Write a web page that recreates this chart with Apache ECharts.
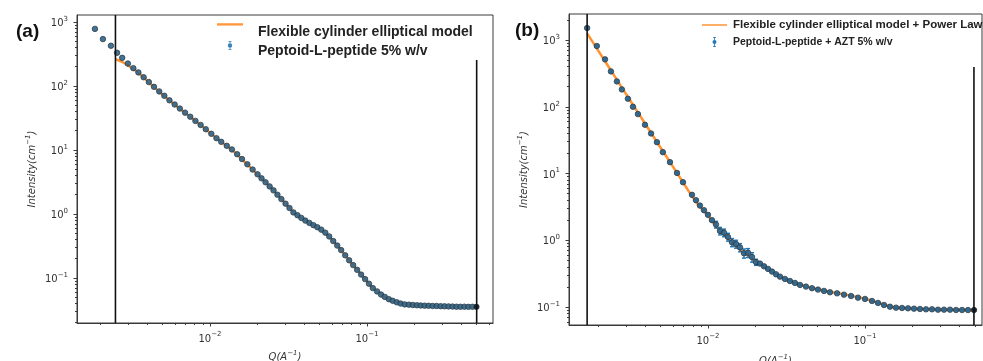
<!DOCTYPE html>
<html>
<head>
<meta charset="utf-8">
<script src="https://cdn.jsdelivr.net/npm/echarts@6/dist/echarts.min.js"></script>
<style>
html, body { margin: 0; padding: 0; background: #fff; }
#chart { width: 983px; height: 361px; }
</style>
</head>
<body>
<div id="chart"></div>
<script>
// (a) Peptoid-L-peptide 5% w/v  --  Q in 1/A, I in 1/cm
var qA = [0.00185, 0.00208, 0.00234, 0.00256, 0.00276, 0.00300, 0.00325, 0.00350, 0.00378, 0.00408,
  0.00440, 0.00475, 0.00512, 0.00552, 0.00596, 0.00643, 0.00694, 0.00749, 0.00808, 0.00872,
  0.00941, 0.0102, 0.0110, 0.0118, 0.0128, 0.0138, 0.0149, 0.0160, 0.0173, 0.0187, 0.0201,
  0.0213, 0.0226, 0.0240, 0.0254, 0.0269, 0.0285, 0.0303, 0.0321, 0.0340, 0.0361,
  0.0382, 0.0405, 0.0430, 0.0456, 0.0483, 0.0512, 0.0543, 0.0575, 0.0610, 0.0647,
  0.0685, 0.0727, 0.0770, 0.0817, 0.0866, 0.0918, 0.0973, 0.103, 0.109, 0.116,
  0.123, 0.130, 0.138, 0.146, 0.155, 0.164, 0.174, 0.185, 0.196, 0.208,
  0.220, 0.233, 0.247, 0.262, 0.278, 0.295, 0.312, 0.331, 0.351, 0.372,
  0.394, 0.418, 0.443, 0.470, 0.498];
var iA = [780, 540, 425, 330, 275, 224, 190, 163, 137, 115,
  97.0, 82.2, 70.3, 59.7, 51.4, 44.4, 38.3, 33.1, 28.5, 24.6,
  21.1, 17.9, 15.3, 13.4, 11.6, 10.2, 8.59, 7.22, 5.98, 4.95, 4.17,
  3.61, 3.13, 2.70, 2.34, 2.00, 1.71, 1.45, 1.24, 1.06, 0.957,
  0.869, 0.788, 0.726, 0.670, 0.621, 0.569, 0.511, 0.446, 0.378, 0.321,
  0.273, 0.226, 0.189, 0.159, 0.134, 0.113, 0.0961, 0.0815, 0.0695, 0.0617,
  0.0551, 0.0507, 0.0466, 0.0440, 0.0417, 0.0399, 0.0387, 0.0383, 0.0379, 0.0375,
  0.0372, 0.0370, 0.0368, 0.0366, 0.0365, 0.0363, 0.0361, 0.0360, 0.0358, 0.0356,
  0.0355, 0.0356, 0.0354, 0.0355, 0.0354];
var fitQA = [0.00250, 0.00276, 0.00300, 0.00350, 0.00408, 0.00475, 0.00552, 0.00643, 0.00749, 0.00872,
  0.0102, 0.0118, 0.0138, 0.0160, 0.0187, 0.0213, 0.0240, 0.0269, 0.0303, 0.0340,
  0.0382, 0.0430, 0.0483, 0.0543, 0.0610, 0.0685, 0.0770, 0.0866, 0.0973, 0.109,
  0.123, 0.138, 0.155, 0.174, 0.196, 0.233, 0.278, 0.331, 0.394, 0.443, 0.498];
var fitIA = [262, 238, 210, 161, 114, 81.5, 59.2, 44.0, 32.8, 24.4,
  17.8, 13.3, 10.1, 7.15, 4.92, 3.60, 2.70, 2.01, 1.46, 1.07,
  0.872, 0.727, 0.618, 0.508, 0.378, 0.272, 0.190, 0.135, 0.0965, 0.0700,
  0.0553, 0.0468, 0.0418, 0.0389, 0.0378, 0.0369, 0.0364, 0.0360, 0.0356, 0.0355, 0.0354];
var rangeQA = [0.0025, 0.50];
var rangeTopA = 255;

// (b) Peptoid-L-peptide + AZT 5% w/v
var qB = [0.00170, 0.00196, 0.00221, 0.00241, 0.00263, 0.00283, 0.00309, 0.00333, 0.00358, 0.00397,
  0.00434, 0.00473, 0.00516, 0.00573, 0.00635, 0.00693, 0.00791,
  0.00839, 0.00889, 0.00943, 0.0100, 0.0106, 0.01125, 0.01192, 0.01265, 0.01341, 0.01422,
  0.01508, 0.0160, 0.01696, 0.01799, 0.01908, 0.02023, 0.02145, 0.02275, 0.02412, 0.02558,
  0.02712, 0.02876, 0.03093, 0.03327, 0.03581, 0.03855, 0.04207, 0.04596, 0.05017, 0.05483,
  0.05984, 0.06637, 0.07345, 0.08147, 0.09023, 0.100, 0.1108, 0.1210, 0.1321, 0.1442,
  0.1576, 0.1721, 0.1879, 0.2051, 0.2239, 0.2446, 0.2671, 0.2917, 0.3185, 0.3478,
  0.3802, 0.4150, 0.4529, 0.4945];
var iB = [1510, 813, 513, 339, 240, 182, 132, 100, 77.6, 53.7,
  39.8, 29.5, 20.9, 14.8, 10.2, 7.41, 4.79,
  3.98, 3.31, 2.82, 2.40, 2.00, 1.72, 1.38, 1.30, 1.12, 0.93,
  0.88, 0.78, 0.64, 0.65, 0.56, 0.47, 0.447, 0.407, 0.372, 0.339,
  0.309, 0.285, 0.263, 0.245, 0.229, 0.214, 0.202, 0.191, 0.182, 0.174,
  0.166, 0.160, 0.153, 0.146, 0.138, 0.132, 0.123, 0.115, 0.107, 0.101,
  0.0977, 0.0966, 0.0955, 0.0944, 0.0933, 0.0923, 0.0923, 0.0912, 0.0912, 0.0912,
  0.0902, 0.0902, 0.0900, 0.0900];
var errB = [60, 30, 18, 12, 8, 6, 4.5, 3.5, 2.7, 1.9,
  1.4, 1.0, 0.7, 0.5, 0.35, 0.26, 0.17,
  0.12, 0.10, 0.09, 0.08, 0.08, 0.20, 0.18, 0.17, 0.15, 0.13,
  0.12, 0.11, 0.10, 0.10, 0.09, 0.05, 0.012, 0.010, 0.009, 0.008,
  0.007, 0.006, 0.006, 0.005, 0.005, 0.005, 0.004, 0.004, 0.004, 0.004,
  0.004, 0.004, 0.003, 0.003, 0.003, 0.003, 0.003, 0.003, 0.003, 0.003,
  0.002, 0.002, 0.002, 0.002, 0.002, 0.002, 0.002, 0.002, 0.002, 0.002,
  0.002, 0.002, 0.002, 0.002];
var fitQB = [0.00170, 0.00221, 0.00283, 0.00358, 0.00473, 0.00573, 0.00693, 0.00791, 0.00889, 0.0100,
  0.01125, 0.01265, 0.01422, 0.0160, 0.01799, 0.02023, 0.02275, 0.02558, 0.02876, 0.03327,
  0.03855, 0.04596, 0.05483, 0.06637, 0.08147, 0.100, 0.1210, 0.1442, 0.1721, 0.2051,
  0.2446, 0.2917, 0.3478, 0.4150, 0.4945];
var fitIB = [1260, 481, 194, 82.2, 29.7, 14.8, 7.40, 4.57, 3.16, 2.34,
  1.62, 1.20, 0.923, 0.724, 0.582, 0.479, 0.403, 0.339, 0.285, 0.245,
  0.216, 0.193, 0.176, 0.162, 0.148, 0.133, 0.116, 0.102, 0.0966, 0.0944,
  0.0927, 0.0916, 0.0910, 0.0904, 0.0902];
var rangeQB = [0.0017, 0.494];
var rangeTopB = 394;

var xTicks = [-2, -1];
var yTicks = [-1, 0, 1, 2, 3];

var L = Math.log10;
function pts(q, v) {
  var out = [];
  for (var k = 0; k < Math.min(q.length, v.length); k++) out.push([L(q[k]), L(v[k])]);
  return out;
}
function errPts(q, v, e) {
  var out = [];
  for (var k = 0; k < Math.min(q.length, v.length, e.length); k++) {
    out.push([L(q[k]), L(Math.max(v[k] - e[k], v[k] * 0.05)), L(v[k] + e[k])]);
  }
  return out;
}
function minors(lo, hi) {
  var v = [];
  for (var n = Math.floor(lo); n <= Math.ceil(hi); n++) {
    for (var k = 2; k <= 9; k++) {
      var t = n + L(k);
      if (t > lo && t < hi) v.push(t);
    }
  }
  return v;
}

var spine = '#3a3a3a';
var labelRich = {
  b: { fontFamily: 'DejaVu Sans', fontSize: 10, color: '#333', lineHeight: 13, verticalAlign: 'bottom' },
  s: { fontFamily: 'DejaVu Sans', fontSize: 7, color: '#333', lineHeight: 13, verticalAlign: 'top' }
};
function powLabel(v) {
  var n = Math.round(v);
  return '{b|10}{s|' + (n < 0 ? '\u2212' : '') + Math.abs(n) + '}';
}
var nameRich = {
  i: { fontFamily: 'DejaVu Sans', fontStyle: 'italic', fontSize: 10, color: '#333', lineHeight: 12, verticalAlign: 'bottom' },
  s: { fontFamily: 'DejaVu Sans', fontStyle: 'italic', fontSize: 7, color: '#333', lineHeight: 12, verticalAlign: 'top' }
};

function majorX(grid, ext, gap) {
  return {
    gridIndex: grid, type: 'value', min: ext[0], max: ext[1], position: 'bottom',
    axisLine: { onZero: false, lineStyle: { color: spine, width: 1 } },
    axisTick: { customValues: xTicks, length: 3.5, lineStyle: { color: spine } },
    axisLabel: { customValues: xTicks, formatter: powLabel, rich: labelRich, margin: 8 },
    splitLine: { show: false },
    name: '{i|Q(A}{s|\u22121}{i|)}', nameLocation: 'middle', nameGap: gap,
    nameTextStyle: { rich: nameRich }
  };
}
function minorX(grid, ext) {
  return {
    gridIndex: grid, type: 'value', min: ext[0], max: ext[1], position: 'bottom',
    axisLine: { show: false, onZero: false },
    axisTick: { customValues: minors(ext[0], ext[1]), length: 2, lineStyle: { color: spine } },
    axisLabel: { show: false }, splitLine: { show: false }
  };
}
function majorY(grid, ext) {
  return {
    gridIndex: grid, type: 'value', min: ext[0], max: ext[1], position: 'left',
    axisLine: { show: true, onZero: false, lineStyle: { color: spine, width: 1 } },
    axisTick: { show: true, customValues: yTicks, length: 3.5, lineStyle: { color: spine } },
    axisLabel: { customValues: yTicks, formatter: powLabel, rich: labelRich, margin: 9 },
    splitLine: { show: false },
    name: '{i|Intensity(cm}{s|\u22121}{i|)}', nameLocation: 'middle', nameGap: 40,
    nameTextStyle: { rich: nameRich }
  };
}
function minorY(grid, ext) {
  return {
    gridIndex: grid, type: 'value', min: ext[0], max: ext[1], position: 'left',
    axisLine: { show: false, onZero: false },
    axisTick: { show: true, customValues: minors(ext[0], ext[1]), length: 2, lineStyle: { color: spine } },
    axisLabel: { show: false }, splitLine: { show: false }
  };
}

var xExtA = [-2.847, -0.197], yExtA = [-1.703, 3.109];
var xExtB = [-2.885, -0.255], yExtB = [-1.27, 3.39];

var fitColor = '#ff7f0e', dataColor = '#30658a', edgeColor = '#25343f';
// legend glyphs; the leading moves only set the icon box so the marks keep their size
var lineIconA = 'path://M0,0M26,20M0,1.2h26v2.4h-26z';
var errIconA = 'path://M0,0M26,20M11.5,0h3v0.8h-1.1v7.4h1.1v0.8h-3v-0.8h1.1v-7.4h-1.1z M13,2.3a2.2,2.2 0 1,1 0,4.4a2.2,2.2 0 1,1 0,-4.4z';
var lineIconB = 'path://M0,0M25,12M0,5.2h25v1.6h-25z';
var errIconB = 'path://M0,0M25,12M11,1h3v0.8h-1.1v8.4h1.1v0.8h-3v-0.8h1.1v-8.4h-1.1z M12.5,4a2,2 0 1,1 0,4a2,2 0 1,1 0,-4z';

function vline(xi, yi, q, lo, hi) {
  return {
    type: 'line', xAxisIndex: xi, yAxisIndex: yi, symbol: 'none', silent: true, z: 5,
    lineStyle: { color: '#111', width: 1.6 }, data: [[L(q), lo], [L(q), hi]]
  };
}

var names = {
  fitA: 'Flexible cylinder elliptical model',
  dataA: 'Peptoid-L-peptide 5% w/v',
  fitB: 'Flexible cylinder elliptical model + Power Law',
  dataB: 'Peptoid-L-peptide + AZT 5% w/v'
};

var option = {
  animation: false,
  backgroundColor: '#fff',
  title: [
    { text: '(a)', left: 16, top: 22, padding: 0, textStyle: { fontFamily: 'Liberation Sans', fontWeight: 'bold', fontSize: 19, color: '#111' } },
    { text: '(b)', left: 515, top: 21, padding: 0, textStyle: { fontFamily: 'Liberation Sans', fontWeight: 'bold', fontSize: 19, color: '#111' } }
  ],
  grid: [
    { left: 77, top: 15, width: 416, height: 308, outerBoundsMode: 'none', show: true, borderColor: spine, borderWidth: 1, backgroundColor: 'transparent' },
    { left: 569, top: 14, width: 413, height: 311, outerBoundsMode: 'none', show: true, borderColor: spine, borderWidth: 1, backgroundColor: 'transparent' }
  ],
  xAxis: [majorX(0, xExtA, 27), minorX(0, xExtA), majorX(1, xExtB, 29), minorX(1, xExtB)],
  yAxis: [majorY(0, yExtA), minorY(0, yExtA), majorY(1, yExtB), minorY(1, yExtB)],
  legend: [
    {
      orient: 'vertical', left: 217, top: 22, padding: 0, itemWidth: 26, itemHeight: 20, itemGap: -1,
      textStyle: { fontFamily: 'Liberation Sans', fontWeight: 'bold', fontSize: 14, color: '#222', padding: [0, 0, 0, 10] },
      data: [
        { name: names.fitA, icon: lineIconA, itemStyle: { color: fitColor, opacity: 0.8 } },
        { name: names.dataA, icon: errIconA, itemStyle: { color: '#2277b5', borderWidth: 0 } }
      ]
    },
    {
      orient: 'vertical', left: 702, top: 19, padding: 0, itemWidth: 25, itemHeight: 12, itemGap: 5,
      textStyle: { fontFamily: 'Liberation Sans', fontWeight: 'bold', color: '#222', padding: [0, 0, 0, 1] },
      data: [
        { name: names.fitB, icon: lineIconB, itemStyle: { color: fitColor, opacity: 0.8 }, textStyle: { fontSize: 11.5 } },
        { name: names.dataB, icon: errIconB, itemStyle: { color: '#2277b5', borderWidth: 0 }, textStyle: { fontSize: 10.5 } }
      ]
    }
  ],
  series: [
    {
      name: names.fitA, type: 'line', xAxisIndex: 0, yAxisIndex: 0, z: 2, symbol: 'none', smooth: 0.3,
      lineStyle: { color: fitColor, width: 2.5, opacity: 0.85 }, itemStyle: { color: fitColor },
      data: pts(fitQA, fitIA)
    },
    {
      name: names.dataA, type: 'scatter', xAxisIndex: 0, yAxisIndex: 0, z: 3, symbolSize: 5.5,
      itemStyle: { color: dataColor, borderColor: edgeColor, borderWidth: 0.8, opacity: 0.9 },
      data: pts(qA, iA)
    },
    vline(0, 0, rangeQA[0], yExtA[0], yExtA[1]),
    vline(0, 0, rangeQA[1], yExtA[0], L(rangeTopA)),
    {
      type: 'scatter', xAxisIndex: 0, yAxisIndex: 0, z: 6, symbolSize: 5, itemStyle: { color: '#111' },
      data: [[L(qA[qA.length - 1]), L(iA[iA.length - 1])]]
    },

    {
      name: names.fitB, type: 'line', xAxisIndex: 2, yAxisIndex: 2, z: 2, symbol: 'none', smooth: 0.3,
      lineStyle: { color: fitColor, width: 2.5, opacity: 0.85 }, itemStyle: { color: fitColor },
      data: pts(fitQB, fitIB)
    },
    {
      name: names.dataB, type: 'custom', xAxisIndex: 2, yAxisIndex: 2, z: 3, silent: true,
      encode: { x: 0, y: [1, 2] },
      data: errPts(qB, iB, errB),
      renderItem: function (params, api) {
        var lo = api.coord([api.value(0), api.value(1)]);
        var hi = api.coord([api.value(0), api.value(2)]);
        var st = { stroke: '#1f77b4', lineWidth: 1.4 };
        return {
          type: 'group', children: [
            { type: 'line', shape: { x1: lo[0], y1: lo[1], x2: hi[0], y2: hi[1] }, style: st },
            { type: 'line', shape: { x1: lo[0] - 2, y1: lo[1], x2: lo[0] + 2, y2: lo[1] }, style: st },
            { type: 'line', shape: { x1: hi[0] - 2, y1: hi[1], x2: hi[0] + 2, y2: hi[1] }, style: st }
          ]
        };
      }
    },
    {
      name: names.dataB, type: 'scatter', xAxisIndex: 2, yAxisIndex: 2, z: 3, symbolSize: 5.5,
      itemStyle: { color: dataColor, borderColor: edgeColor, borderWidth: 0.8, opacity: 0.9 },
      data: pts(qB, iB)
    },
    vline(2, 2, rangeQB[0], yExtB[0], yExtB[1]),
    vline(2, 2, rangeQB[1], yExtB[0], L(rangeTopB)),
    {
      type: 'scatter', xAxisIndex: 2, yAxisIndex: 2, z: 6, symbolSize: 5, itemStyle: { color: '#111' },
      data: [[L(qB[qB.length - 1]), L(iB[iB.length - 1])]]
    }
  ]
};

var chart = echarts.init(document.getElementById('chart'), null, { renderer: 'canvas' });
chart.setOption(option);
</script>
</body>
</html>
